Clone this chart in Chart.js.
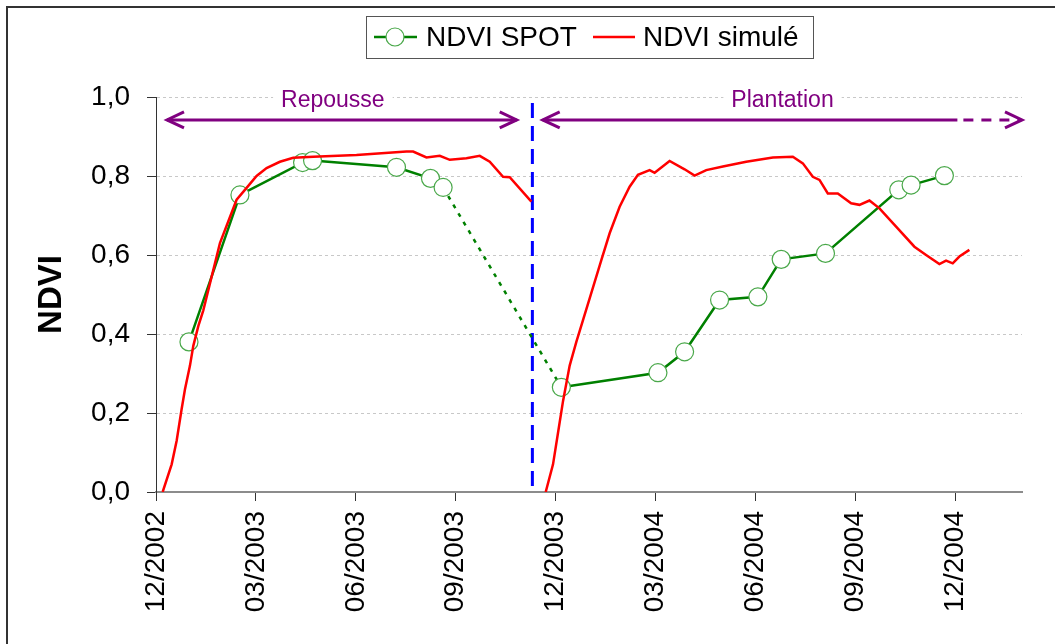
<!DOCTYPE html>
<html>
<head>
<meta charset="utf-8">
<script src="https://cdn.jsdelivr.net/npm/chart.js@4/dist/chart.umd.min.js"></script>
<style>
  body { margin: 0; background: #fff; }
  canvas { display: block; }
</style>
</head>
<body>
<canvas id="ndviChart" width="1055" height="644"></canvas>
<script>
// x values are months counted from 1 Dec 2002
const spotMonths = [0.99, 2.52, 4.40, 4.70, 7.22, 8.24, 8.62, 12.17, 15.07, 15.87, 16.92, 18.07, 18.77, 20.10, 22.30, 22.67, 23.67];
const spotNdvi = [0.38, 0.752, 0.834, 0.839, 0.822, 0.794, 0.771, 0.265, 0.302, 0.355, 0.486, 0.494, 0.589, 0.604, 0.765, 0.777, 0.801];

// simulated NDVI, null = break between the two cycles
const simMonths = [
  0.20, 0.47, 0.62, 0.77, 0.87, 1.02, 1.12, 1.27, 1.42, 1.92, 2.42, 2.72, 3.02, 3.32, 3.72, 4.12, 4.72,
  6.02, 7.52, 7.72, 8.12, 8.52, 8.82, 9.32, 9.72, 10.02, 10.42, 10.62, 11.27,
  11.50,
  11.70, 11.92, 12.07, 12.22, 12.42, 12.62, 12.82, 13.02, 13.37, 13.62, 13.92, 14.22, 14.47, 14.82,
  14.97, 15.42, 15.87, 16.17, 16.52, 17.02, 17.72, 18.52, 19.12, 19.42, 19.72, 19.92, 20.17, 20.47,
  20.87, 21.12, 21.42, 21.72, 22.22, 22.77, 23.12, 23.52, 23.72, 23.92, 24.12, 24.42
];
const simNdvi = [
  0.00, 0.07, 0.13, 0.21, 0.26, 0.32, 0.37, 0.42, 0.46, 0.63, 0.74, 0.77, 0.80, 0.82, 0.836, 0.846, 0.849,
  0.853, 0.862, 0.862, 0.847, 0.851, 0.841, 0.845, 0.851, 0.836, 0.798, 0.797, 0.735,
  null,
  0.00, 0.07, 0.15, 0.23, 0.32, 0.38, 0.435, 0.49, 0.587, 0.655, 0.722, 0.773, 0.803, 0.815,
  0.808, 0.838, 0.817, 0.801, 0.815, 0.824, 0.836, 0.847, 0.849, 0.832, 0.798, 0.79, 0.756, 0.756,
  0.731, 0.727, 0.738, 0.718, 0.672, 0.621, 0.60, 0.577, 0.586, 0.579, 0.596, 0.613
];

const xMin = 0, xMax = 26, xStep = 3;
const plantingMonth = 11.30;          // dashed blue separator
const periods = [
  { label: 'Repousse', from: 0.33, to: 10.83, solidTo: 10.83, textAt: 5.31 },
  { label: 'Plantation', from: 11.61, to: 26, solidTo: 24.06, textAt: 18.81 }
];
const arrowLevel = 0.942, textLevel = 0.99, sepTop = 0.985;

const PURPLE = '#800080';
const FONT = "'Liberation Sans', Arial, sans-serif";

function monthLabel(v) {
  const m = (11 + v) % 12 + 1;
  const y = 2002 + Math.floor((11 + v) / 12);
  return String(m).padStart(2, '0') + '/' + y;
}

function arrowHead(ctx, x, y, dir) {
  ctx.beginPath();
  ctx.moveTo(x - dir * 17, y - 8);
  ctx.lineTo(x, y);
  ctx.lineTo(x - dir * 17, y + 8);
  ctx.stroke();
}

const decorations = {
  id: 'decorations',
  beforeDatasetsDraw(chart) {
    const { ctx, scales: { x, y } } = chart;
    ctx.save();
    ctx.strokeStyle = '#0000ff';
    ctx.lineWidth = 3;
    ctx.setLineDash([15, 8]);
    ctx.beginPath();
    ctx.moveTo(x.getPixelForValue(plantingMonth), y.getPixelForValue(sepTop));
    ctx.lineTo(x.getPixelForValue(plantingMonth), y.getPixelForValue(0));
    ctx.stroke();
    ctx.restore();
  },
  afterDatasetsDraw(chart) {
    const { ctx, scales: { x, y } } = chart;
    ctx.save();
    const ay = y.getPixelForValue(arrowLevel);
    periods.forEach(function (p) {
      const x0 = x.getPixelForValue(p.from);
      const x1 = x.getPixelForValue(p.to);
      const xs = x.getPixelForValue(p.solidTo);
      ctx.strokeStyle = PURPLE;
      ctx.lineWidth = 3;
      ctx.setLineDash([]);
      ctx.beginPath();
      ctx.moveTo(x0, ay);
      ctx.lineTo(xs, ay);
      ctx.stroke();
      if (xs < x1) {
        ctx.setLineDash([10, 8]);
        ctx.beginPath();
        ctx.moveTo(xs + 6, ay);
        ctx.lineTo(x1 - 2, ay);
        ctx.stroke();
        ctx.setLineDash([]);
      }
      arrowHead(ctx, x0, ay, -1);
      arrowHead(ctx, x1, ay, 1);

      ctx.font = '23px ' + FONT;
      const tx = x.getPixelForValue(p.textAt);
      const ty = y.getPixelForValue(textLevel);
      const w = ctx.measureText(p.label).width;
      ctx.fillStyle = '#fff';
      ctx.fillRect(tx - w / 2 - 8, ty - 13, w + 16, 24);
      ctx.fillStyle = PURPLE;
      ctx.textAlign = 'center';
      ctx.textBaseline = 'middle';
      ctx.fillText(p.label, tx, ty);
    });
    ctx.restore();
  },
  afterDraw(chart) {
    const ctx = chart.ctx;
    ctx.save();
    // outer frame (top and left edges visible)
    ctx.strokeStyle = '#333';
    ctx.lineWidth = 2;
    ctx.beginPath();
    ctx.moveTo(7, chart.height);
    ctx.lineTo(7, 7);
    ctx.lineTo(chart.width, 7);
    ctx.stroke();

    // legend box
    ctx.fillStyle = '#fff';
    ctx.fillRect(366, 16, 447, 42);
    ctx.strokeStyle = '#555';
    ctx.lineWidth = 1;
    ctx.strokeRect(366.5, 16.5, 447, 42);
    const ly = 37;
    ctx.strokeStyle = '#008000';
    ctx.lineWidth = 2.5;
    ctx.beginPath();
    ctx.moveTo(374, ly);
    ctx.lineTo(417, ly);
    ctx.stroke();
    ctx.fillStyle = '#fff';
    ctx.strokeStyle = '#4aa84a';
    ctx.lineWidth = 1.2;
    ctx.beginPath();
    ctx.arc(395, ly, 9, 0, Math.PI * 2);
    ctx.fill();
    ctx.stroke();
    ctx.strokeStyle = '#ff0000';
    ctx.lineWidth = 2.5;
    ctx.beginPath();
    ctx.moveTo(593, ly);
    ctx.lineTo(635, ly);
    ctx.stroke();
    ctx.fillStyle = '#000';
    ctx.font = '28px ' + FONT;
    ctx.textBaseline = 'middle';
    ctx.textAlign = 'left';
    ctx.fillText(chart.data.datasets[1].label, 426, ly + 1);
    ctx.fillText(chart.data.datasets[0].label, 643, ly + 1);
    ctx.restore();
  }
};

new Chart(document.getElementById('ndviChart'), {
  type: 'line',
  data: {
    datasets: [
      {
        label: 'NDVI simulé',
        data: simMonths.map((m, i) => ({ x: m, y: simNdvi[i] })),
        borderColor: '#ff0000',
        borderWidth: 2.5,
        pointRadius: 0,
        spanGaps: false,
        tension: 0,
        order: 0,
      },
      {
        label: 'NDVI SPOT',
        data: spotMonths.map((m, i) => ({ x: m, y: spotNdvi[i] })),
        borderColor: '#008000',
        borderWidth: 2.5,
        pointRadius: 9,
        pointBackgroundColor: '#fff',
        pointBorderColor: '#4aa84a',
        pointBorderWidth: 1.2,
        tension: 0,
        order: 1,
        segment: {
          borderDash: (ctx) => (ctx.p0DataIndex === 6 ? [4, 6] : undefined),
        },
      },
    ],
  },
  options: {
    responsive: false,
    animation: false,
    layout: { padding: { top: 97, right: 33, left: 0, bottom: 0 } },
    plugins: {
      legend: { display: false },
      tooltip: { enabled: false },
    },
    scales: {
      x: {
        type: 'linear',
        min: xMin,
        max: xMax,
        afterFit: (s) => { s.height = 152; },
        border: { color: '#8c8c8c', width: 2 },
        grid: { drawOnChartArea: false, tickLength: 9, tickColor: '#333' },
        ticks: {
          stepSize: xStep,
          includeBounds: false,
          autoSkip: false,
          minRotation: 90,
          maxRotation: 90,
          padding: 10,
          color: '#000',
          font: { family: FONT, size: 28 },
          callback: (v) => monthLabel(v),
        },
      },
      y: {
        min: 0,
        max: 1,
        afterFit: (s) => { s.width = 156; },
        border: { color: '#333', width: 1, dash: [3, 3] },
        grid: { color: '#c8c8c8', tickLength: 9, tickColor: '#333', tickBorderDash: [] },
        ticks: {
          stepSize: 0.2,
          padding: 17,
          color: '#000',
          font: { family: FONT, size: 28 },
          callback: (v) => v.toFixed(1).replace('.', ','),
        },
        title: {
          display: true,
          text: 'NDVI',
          color: '#000',
          font: { family: FONT, size: 33, weight: 'bold' },
          padding: { top: 32 },
        },
      },
    },
  },
  plugins: [decorations],
});
</script>
</body>
</html>
